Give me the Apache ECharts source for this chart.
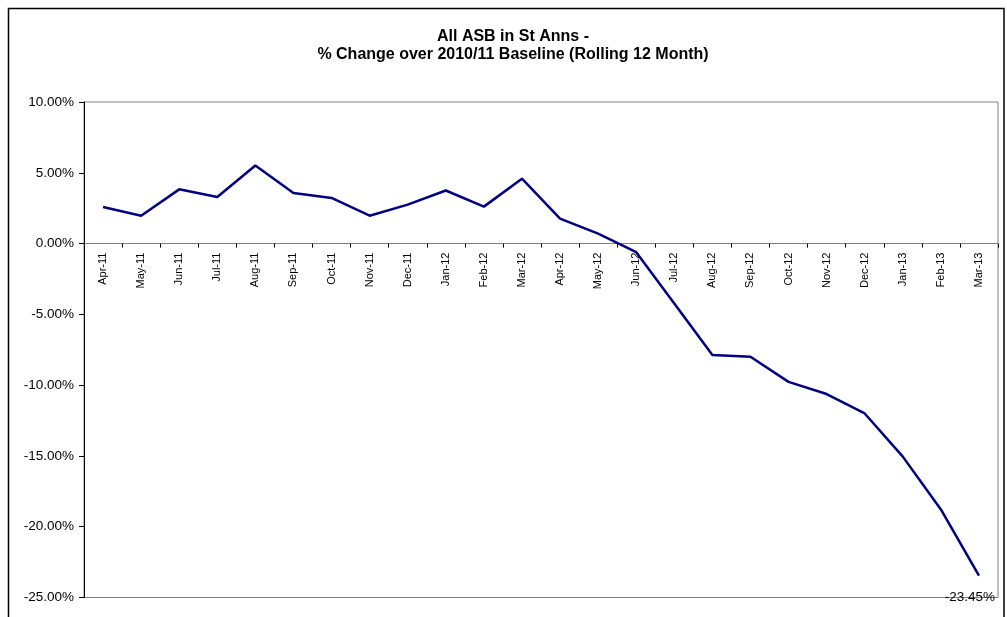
<!DOCTYPE html>
<html>
<head>
<meta charset="utf-8">
<script src="https://cdn.jsdelivr.net/npm/echarts@6/dist/echarts.min.js"></script>
<style>
html,body{margin:0;padding:0;background:#fff;}
#chart{width:1007px;height:617px;}
</style>
</head>
<body>
<div id="chart"></div>
<script>
// months (rolling 12 month)
var months = ['Apr-11','May-11','Jun-11','Jul-11','Aug-11','Sep-11','Oct-11','Nov-11','Dec-11','Jan-12','Feb-12','Mar-12',
              'Apr-12','May-12','Jun-12','Jul-12','Aug-12','Sep-12','Oct-12','Nov-12','Dec-12','Jan-13','Feb-13','Mar-13'];
// % change over 2010/11 baseline
var pctChange = [2.58, 1.97, 3.83, 3.29, 5.51, 3.57, 3.22, 1.97, 2.75, 3.75, 2.61, 4.58,
                 1.76, 0.70, -0.61, -4.24, -7.87, -8.00, -9.77, -10.63, -12.00, -15.05, -18.78, -23.45];
var yTicks = [-25, -20, -15, -10, -5, 0, 5, 10];

var font = 'Liberation Sans, Arial, sans-serif';
var W = 1007, H = 617;
var gridTop = 102, gridBottom = 19.5;
var yMin = yTicks[0], yMax = yTicks[yTicks.length - 1];
// move the category axis up to the zero line
var plotH = H - gridTop - gridBottom;
var zeroOffset = -plotH * (0 - yMin) / (yMax - yMin);

var chart = echarts.init(document.getElementById('chart'));

var option = {
    animation: false,
    backgroundColor: '#fff',
    title: {
        text: 'All ASB in St Anns -\n% Change over 2010/11 Baseline (Rolling 12 Month)',
        left: 508,
        top: 22,
        textAlign: 'center',
        textStyle: {
            fontFamily: font,
            fontSize: 16,
            fontWeight: 'bold',
            color: '#000',
            lineHeight: 18.5
        }
    },
    graphic: [{
        type: 'rect',
        shape: { x: 8.5, y: 8.5, width: 995.5, height: 620 },
        style: { fill: 'none', stroke: '#000', lineWidth: 1.5 },
        silent: true
    }],
    grid: {
        left: 84,
        right: 9,
        top: gridTop,
        bottom: gridBottom,
        outerBoundsMode: 'none',
        show: true,
        borderColor: '#808080',
        borderWidth: 1
    },
    xAxis: {
        type: 'category',
        data: months,
        boundaryGap: true,
        offset: zeroOffset,
        axisLine: { onZero: false, lineStyle: { color: '#808080', width: 1 } },
        axisTick: { show: true, inside: false, length: 4, lineStyle: { color: '#000' } },
        axisLabel: {
            rotate: 90,
            interval: 0,
            margin: 9,
            fontFamily: font,
            fontSize: 11,
            color: '#000'
        },
        splitLine: { show: false }
    },
    yAxis: {
        type: 'value',
        min: yMin,
        max: yMax,
        interval: 5,
        axisLine: { show: true, lineStyle: { color: '#000', width: 1 } },
        axisTick: { show: true, length: 5, lineStyle: { color: '#000' } },
        axisLabel: {
            margin: 10,
            fontFamily: font,
            fontSize: 13.5,
            color: '#000',
            formatter: function (v) { return v.toFixed(2) + '%'; }
        },
        splitLine: { show: false }
    },
    series: [{
        type: 'line',
        clip: false,
        showSymbol: true,
        symbol: 'none',
        data: pctChange.map(function (v, i) {
            if (i === pctChange.length - 1) {
                return {
                    value: v,
                    symbol: 'circle',
                    symbolSize: 1,
                    itemStyle: { color: 'rgba(0,0,0,0)' },
                    label: {
                        show: true,
                        position: 'bottom',
                        distance: 14,
                        offset: [-9, 0],
                        fontFamily: font,
                        fontSize: 13.5,
                        color: '#000',
                        formatter: function (p) { return p.value.toFixed(2) + '%'; }
                    }
                };
            }
            return v;
        }),
        lineStyle: { color: '#000080', width: 2.5 },
        itemStyle: { color: '#000080' }
    }]
};

chart.setOption(option);
</script>
</body>
</html>
